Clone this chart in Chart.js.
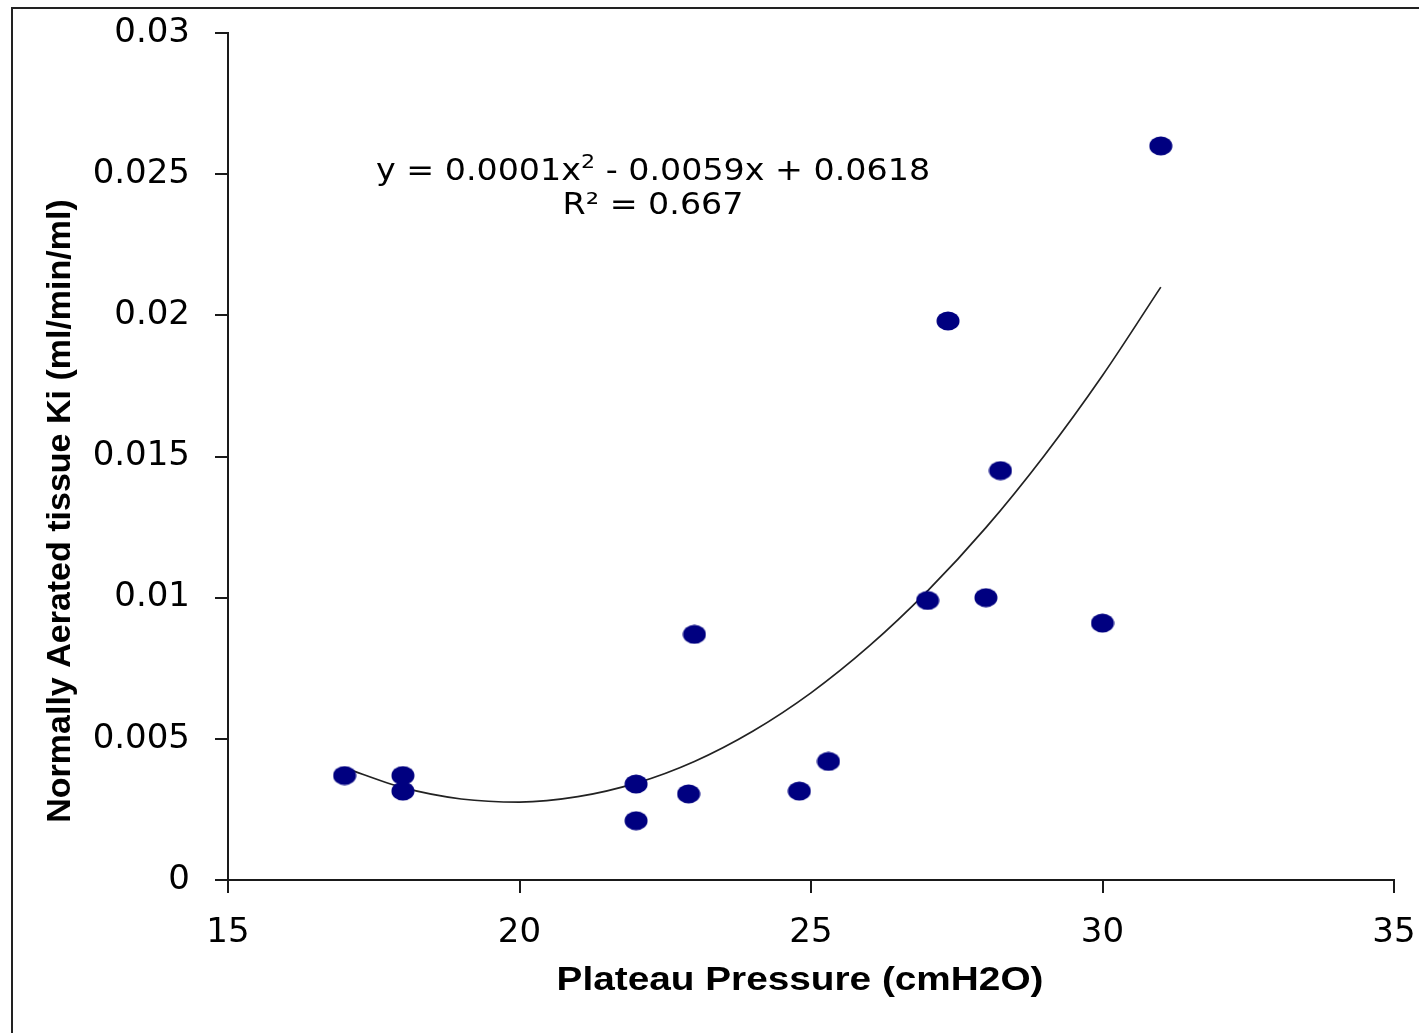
<!DOCTYPE html>
<html>
<head>
<meta charset="utf-8">
<style>
  html, body { margin: 0; padding: 0; background: #ffffff; }
  #wrap { width: 1419px; height: 1033px; }
</style>
<script src="https://cdn.jsdelivr.net/npm/chart.js@4.4.1/dist/chart.umd.min.js"></script>
</head>
<body>
<div id="wrap"><canvas id="c" width="1419" height="1033"></canvas></div>
<script>
// ---- data ----
const pressure = [17, 18, 18, 22, 22, 22.9, 23, 24.8, 25.3, 27, 27.35, 28, 28.25, 30, 31];
const ki = [0.0037, 0.0037, 0.00315, 0.0034, 0.0021, 0.00305, 0.0087, 0.00315, 0.0042, 0.0099, 0.0198, 0.0100, 0.0145, 0.0091, 0.0260];

// polynomial trend line as drawn in the reference
const trendX = [17, 18, 19, 20, 21, 22, 23, 24, 25, 26, 27, 28, 29, 30, 31];
const trendY = [0.00397, 0.00327, 0.00287, 0.00276, 0.00295, 0.00343, 0.00420, 0.00527, 0.00663, 0.00829, 0.01024, 0.01248, 0.01503, 0.01787, 0.02100];

const xTicks = [15, 20, 25, 30, 35];
const xTickLabels = ['15', '20', '25', '30', '35'];
const yTicks = [0, 0.005, 0.01, 0.015, 0.02, 0.025, 0.03];
const yTickLabels = ['0', '0.005', '0.01', '0.015', '0.02', '0.025', '0.03'];

const xTitle = 'Plateau Pressure (cmH2O)';
const yTitle = 'Normally Aerated tissue Ki (ml/min/ml)';
const eqParts = ['y = 0.0001x', '2', ' - 0.0059x + 0.0618'];
const r2Text = 'R\u00B2 = 0.667';

// ---- marker: navy ellipse ----
const marker = document.createElement('canvas');
marker.width = 24; marker.height = 20;
(function () {
  const m = marker.getContext('2d');
  m.fillStyle = '#000080';
  m.beginPath();
  m.ellipse(12, 10, 11.5, 9.5, 0, 0, Math.PI * 2);
  m.fill();
})();

const axisColor = '#1a1a1a';

const decorPlugin = {
  id: 'decor',
  beforeDraw(chart) {
    const ctx = chart.ctx;
    ctx.save();
    ctx.strokeStyle = '#222';
    ctx.lineWidth = 2;
    ctx.beginPath();
    ctx.moveTo(12, 1033);
    ctx.lineTo(12, 8);
    ctx.lineTo(1419, 8);
    ctx.stroke();
    ctx.restore();
  },
  afterDraw(chart) {
    const ctx = chart.ctx;
    ctx.save();
    ctx.fillStyle = '#000';
    // x title
    ctx.font = 'bold 34px "Liberation Sans", Arial, sans-serif';
    ctx.textAlign = 'center';
    ctx.textBaseline = 'alphabetic';
    ctx.save();
    ctx.translate(800, 990);
    ctx.scale(1.14, 1);
    ctx.fillText(xTitle, 0, 0);
    ctx.restore();
    // y title
    ctx.save();
    ctx.translate(70, 511);
    ctx.rotate(-Math.PI / 2);
    ctx.fillText(yTitle, 0, 0);
    ctx.restore();
    // equation (horizontally stretched like the reference)
    const sx = 1.11;
    ctx.save();
    ctx.translate(653, 0);
    ctx.scale(sx, 1);
    const mainFont = '30px "DejaVu Sans", sans-serif';
    const supFont = '20px "DejaVu Sans", sans-serif';
    ctx.font = mainFont;
    const w0 = ctx.measureText(eqParts[0]).width;
    const w2 = ctx.measureText(eqParts[2]).width;
    ctx.font = supFont;
    const w1 = ctx.measureText(eqParts[1]).width;
    const total = w0 + w1 + w2;
    let x = -total / 2;
    ctx.textAlign = 'left';
    ctx.font = mainFont;
    ctx.fillText(eqParts[0], x, 180);
    x += w0;
    ctx.font = supFont;
    ctx.fillText(eqParts[1], x, 168);
    x += w1;
    ctx.font = mainFont;
    ctx.fillText(eqParts[2], x, 180);
    ctx.textAlign = 'center';
    ctx.fillText(r2Text, 0, 214);
    ctx.restore();
    ctx.restore();
  }
};

new Chart(document.getElementById('c'), {
  type: 'scatter',
  data: {
    datasets: [
      {
        label: 'Ki',
        data: pressure.map((p, i) => ({ x: p, y: ki[i] })),
        pointStyle: marker,
        pointRadius: 10,
        pointHoverRadius: 10,
        showLine: false,
        order: 1
      },
      {
        label: 'Trend',
        data: trendX.map((p, i) => ({ x: p, y: trendY[i] })),
        showLine: true,
        borderColor: '#222222',
        borderWidth: 1.7,
        pointRadius: 0,
        cubicInterpolationMode: 'monotone',
        fill: false,
        order: 2
      }
    ]
  },
  options: {
    responsive: false,
    animation: false,
    devicePixelRatio: 1,
    layout: { padding: { left: 0, top: 33, right: 25, bottom: 0 } },
    plugins: { legend: { display: false }, tooltip: { enabled: false } },
    scales: {
      x: {
        type: 'linear',
        min: 15, max: 35,
        afterBuildTicks(s) { s.ticks = xTicks.map(v => ({ value: v })); },
        afterFit(s) { s.height = 153; s.paddingLeft = 0; s.paddingRight = 0; },
        ticks: {
          padding: 20,
          color: '#000',
          font: { family: '"DejaVu Sans", sans-serif', size: 34 },
          callback: (v) => { const i = xTicks.indexOf(v); return i >= 0 ? xTickLabels[i] : ''; }
        },
        grid: { drawOnChartArea: false, drawTicks: true, tickLength: 13, color: axisColor, lineWidth: 2 },
        border: { display: true, color: axisColor, width: 2 }
      },
      y: {
        type: 'linear',
        min: 0, max: 0.03,
        afterBuildTicks(s) { s.ticks = yTicks.map(v => ({ value: v })); },
        afterFit(s) { s.width = 228; s.paddingTop = 0; s.paddingBottom = 0; },
        ticks: {
          padding: 25,
          color: '#000',
          font: { family: '"DejaVu Sans", sans-serif', size: 34 },
          callback: (v) => {
            const i = yTicks.findIndex(t => Math.abs(t - v) < 1e-9);
            return i >= 0 ? yTickLabels[i] : '';
          }
        },
        grid: { drawOnChartArea: false, drawTicks: true, tickLength: 13, color: axisColor, lineWidth: 2 },
        border: { display: true, color: axisColor, width: 2 }
      }
    }
  },
  plugins: [decorPlugin]
});
</script>
</body>
</html>
